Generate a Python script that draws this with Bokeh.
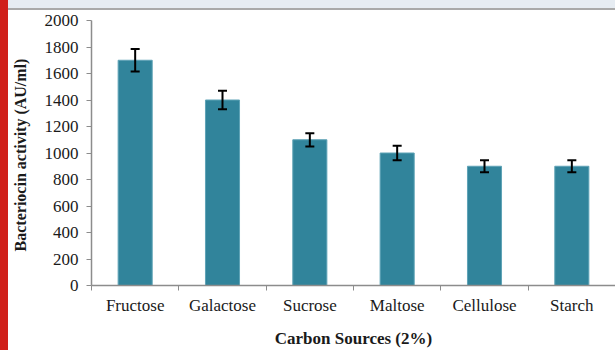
from bokeh.plotting import figure
from bokeh.models import (ColumnDataSource, FixedTicker, Whisker, TeeHead, Div)
from bokeh.layouts import row, column
from bokeh.embed import file_html
from bokeh.resources import INLINE

# Bacteriocin activity by carbon source (2%)
sources = ["Fructose", "Galactose", "Sucrose", "Maltose", "Cellulose", "Starch"]
activity = [1700, 1400, 1100, 1000, 900, 900]
error = [85, 70, 50, 55, 45, 45]
y_ticks = [0, 200, 400, 600, 800, 1000, 1200, 1400, 1600, 1800, 2000]

xs = [i + 0.5 for i in range(len(sources))]
src = ColumnDataSource(dict(
    x=xs,
    y=activity,
    upper=[a + e for a, e in zip(activity, error)],
    lower=[a - e for a, e in zip(activity, error)],
))

SERIF = "Liberation Serif"
AXIS_GREY = "#8c8c8c"
TEXT = "#1a1a1a"

p = figure(width=607, height=340, output_backend="svg", toolbar_location=None,
           x_range=(0, len(sources)), y_range=(0, 2000),
           min_border_left=80, min_border_right=0, min_border_top=10,
           min_border_bottom=64)
p.outline_line_color = None
p.xgrid.grid_line_color = None
p.ygrid.grid_line_color = None
p.background_fill_color = "white"
p.border_fill_color = "white"

p.vbar(x="x", top="y", width=0.39, bottom=0, source=src,
       fill_color="#31849B", line_color="#5fa3b6", line_width=1)

whisk = Whisker(base="x", upper="upper", lower="lower", source=src,
                level="overlay", line_color="black", line_width=2,
                upper_head=TeeHead(size=9, line_color="black", line_width=2),
                lower_head=TeeHead(size=9, line_color="black", line_width=2))
p.add_layout(whisk)

# x axis: labels at bar centres, tick marks between categories
xa = p.xaxis[0]
xa.ticker = FixedTicker(ticks=xs, minor_ticks=list(range(len(sources) + 1)))
xa.major_label_overrides = {x: s for x, s in zip(xs, sources)}
xa.major_tick_out = 0
xa.major_tick_in = 0
xa.minor_tick_out = 5
xa.minor_tick_in = 0
xa.minor_tick_line_color = AXIS_GREY
xa.axis_line_color = AXIS_GREY
xa.axis_line_width = 1.5
xa.major_label_text_font = SERIF
xa.major_label_text_font_size = "17px"
xa.major_label_text_color = TEXT
xa.major_label_standoff = 5
xa.axis_label = "Carbon Sources (2%)"
xa.axis_label_text_font = SERIF
xa.axis_label_text_font_style = "bold"
xa.axis_label_text_font_size = "17px"
xa.axis_label_text_color = TEXT
xa.axis_label_standoff = 11

ya = p.yaxis[0]
ya.ticker = FixedTicker(ticks=y_ticks, minor_ticks=[])
ya.major_tick_out = 5
ya.major_tick_in = 0
ya.major_tick_line_color = AXIS_GREY
ya.axis_line_color = AXIS_GREY
ya.axis_line_width = 1.5
ya.major_label_text_font = SERIF
ya.major_label_text_font_size = "17px"
ya.major_label_text_color = TEXT
ya.major_label_standoff = 8
ya.axis_label = "Bacteriocin  activity (AU/ml)"
ya.axis_label_text_font = SERIF
ya.axis_label_text_font_style = "bold"
ya.axis_label_text_font_size = "16px"
ya.axis_label_text_color = TEXT
ya.axis_label_standoff = 13

red_strip = Div(text="", width=8, height=350, margin=0,
                styles={"background-color": "#d0201a"})
top_band = Div(text="", width=607, height=10, margin=0,
               styles={"background-color": "#e6ecf2",
                       "border-bottom": "2px solid #a9a9a9",
                       "box-sizing": "border-box"})

layout = row(red_strip, column(top_band, p, spacing=0), spacing=0)

open("out.html", "w").write(file_html(layout, INLINE))
